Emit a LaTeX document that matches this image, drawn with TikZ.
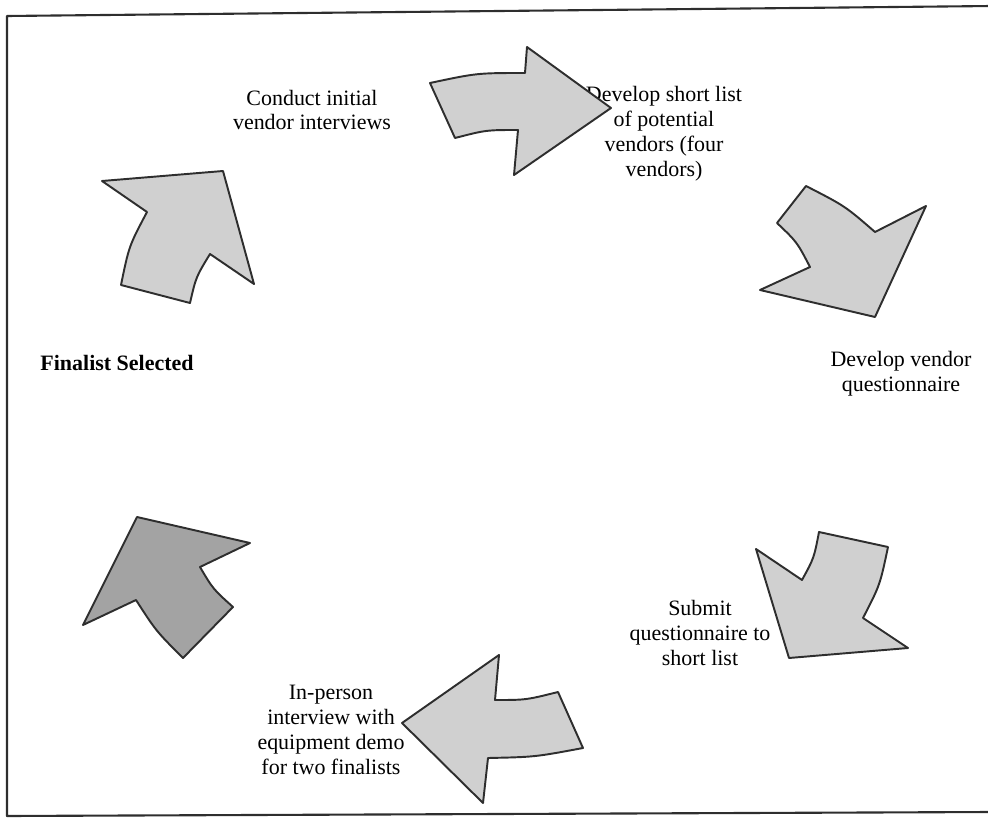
\documentclass[tikz,border=0pt]{standalone}
\usepackage{fontspec}
\setmainfont{Liberation Serif}
\usepackage{tikz}
\definecolor{ArrowFill}{HTML}{D0D0D0}
\definecolor{ArrowDark}{HTML}{A3A3A3}
\definecolor{Ink}{HTML}{2E2E2E}

\begin{document}
\begin{tikzpicture}[x=0.02cm,y=-0.02cm,line join=round,
    steparrow/.style={draw=Ink,line width=1.1pt,fill=ArrowFill},
    steplabel/.style={align=center,inner sep=0pt,font=\fontsize{12.5}{14.2}\selectfont}]
    \useasboundingbox (0,0) rectangle (988,821);
    % frame
    \draw[Ink,line width=1.2pt] (992,6) -- (7,16) -- (7,816) -- (992,812);

    % step labels
    \node[steplabel] (interviews) at (312,110) {Conduct initial\\vendor interviews};
    \node[steplabel] (shortlist) at (664,134) {Develop short list\\of potential\\vendors (four\\vendors)};
    \node[steplabel] (questionnaire) at (901,374) {Develop vendor\\questionnaire};
    \node[steplabel] (submit) at (700,633) {Submit\\questionnaire to\\short list};
    \node[steplabel] (demo) at (331,730) {In-person\\interview with\\equipment demo\\for two finalists};
    \node[steplabel,font=\fontsize{12.5}{14.2}\selectfont\bfseries] (finalist) at (117,363) {Finalist Selected};

    % arrows of the cycle
    \draw[steparrow] (430,83) .. controls (477,73) .. (525,73) -- (527,47) -- (611,108)
      -- (514,175) -- (518,130) .. controls (486,130) .. (455,138) -- cycle;
    \draw[steparrow] (806,186) .. controls (845,206) .. (875,232) -- (926,206) -- (875,317)
      -- (760,290) -- (810,267) .. controls (797,242) .. (777,223) -- cycle;
    \draw[steparrow] (756,549) -- (802,580) .. controls (814,558) .. (819,532) -- (888,547)
      .. controls (880,585) .. (863,618) -- (908,648) -- (789,658) -- cycle;
    \draw[steparrow] (402,723) -- (499,655) -- (495,700) .. controls (526,700) .. (558,692)
      -- (583,748) .. controls (535,757) .. (488,758) -- (483,803) -- cycle;
    \draw[steparrow,fill=ArrowDark] (137,517) -- (250,543) -- (200,567) .. controls (213,589) .. (233,607)
      -- (183,658) .. controls (156,631) .. (136,600) -- (83,625) -- cycle;
    \draw[steparrow] (102,181) -- (223,171) -- (254,284) -- (210,254) .. controls (196,277) .. (190,303)
      -- (121,285) .. controls (129,246) .. (147,212) -- cycle;
\end{tikzpicture}
\end{document}
